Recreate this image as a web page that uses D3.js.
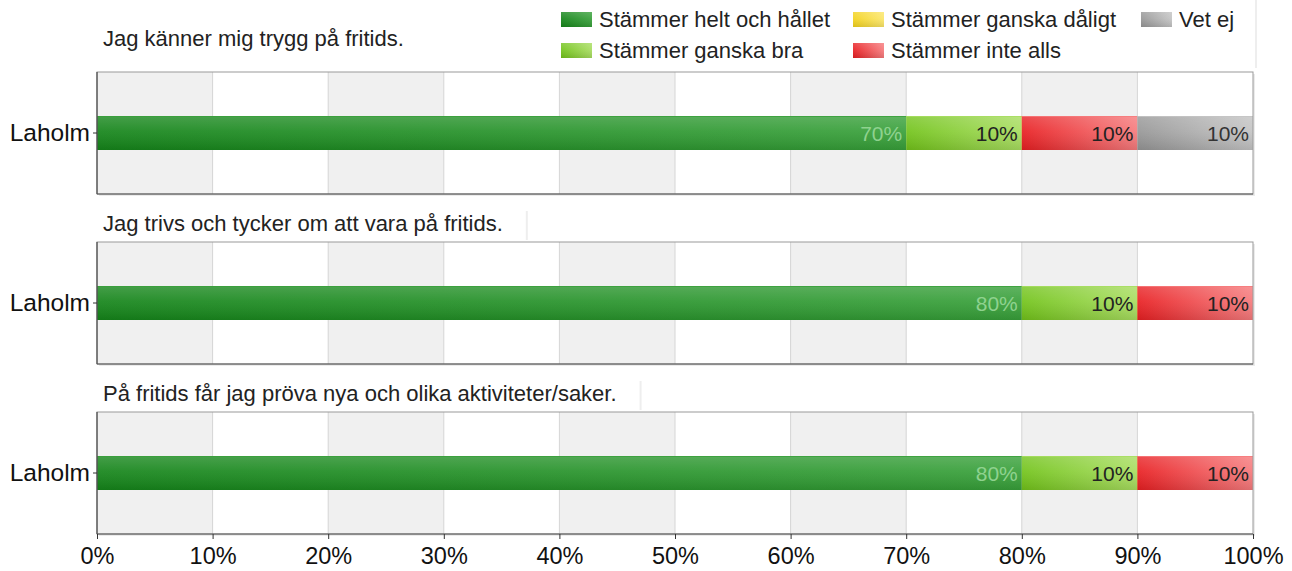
<!DOCTYPE html>
<html>
<head>
<meta charset="utf-8">
<script src="https://cdn.jsdelivr.net/npm/d3@7"></script>
<style>
  body { margin: 0; background: #fff; }
  text { font-family: "Liberation Sans", Arial, sans-serif; }
</style>
</head>
<body>
<div id="chart"></div>
<script>
// data
const questions = [
  'Jag känner mig trygg på fritids.',
  'Jag trivs och tycker om att vara på fritids.',
  'På fritids får jag pröva nya och olika aktiviteter/saker.',
];
const category = 'Laholm';
const answers = ['Stämmer helt och hållet', 'Stämmer ganska bra', 'Stämmer ganska dåligt', 'Stämmer inte alls', 'Vet ej'];
const helt = [70, 80, 80];
const bra = [10, 10, 10];
const daligt = [0, 0, 0];
const inteAlls = [10, 10, 10];
const vetEj = [10, 0, 0];
const ticks = [0, 10, 20, 30, 40, 50, 60, 70, 80, 90, 100];

const colors = ['#15851a', '#72c31a', '#f3d21c', '#e81f22', '#969696'];
const light = ['#38a03a', '#a8dd60', '#fbe66a', '#f67a7c', '#c4c4c4'];
const labelColors = ['#8fd28f', '#222', '#222', '#222', '#333'];

const W = 1292;
const H = 571;
const left = 97;
const right = 1253;
const panelH = 122;
const panelTop = [72, 242, 412];
const titleY = [46, 231, 401];
const barH = 34;

const svg = d3.select('#chart')
  .append('svg')
  .attr('width', W)
  .attr('height', H);

const defs = svg.append('defs');
colors.forEach((c, i) => {
  const g = defs.append('linearGradient').attr('id', `grad${i}`)
    .attr('x1', 0).attr('x2', 1).attr('y1', 0).attr('y2', 0);
  g.append('stop').attr('offset', '0%').attr('stop-color', c);
  g.append('stop').attr('offset', '100%').attr('stop-color', light[i]);
});
const gloss = defs.append('linearGradient').attr('id', 'gloss')
  .attr('x1', 0).attr('x2', 0).attr('y1', 0).attr('y2', 1);
gloss.append('stop').attr('offset', '0%').attr('stop-color', '#fff').attr('stop-opacity', 0.2);
gloss.append('stop').attr('offset', '45%').attr('stop-color', '#fff').attr('stop-opacity', 0.08);
gloss.append('stop').attr('offset', '100%').attr('stop-color', '#000').attr('stop-opacity', 0.1);

const x = d3.scaleLinear().domain([0, 100]).range([left, right]);

const rows = questions.map((q, i) => [helt[i], bra[i], daligt[i], inteAlls[i], vetEj[i]]);

rows.forEach((vals, qi) => {
  const top = panelTop[qi];
  const y = d3.scaleBand().domain([category]).range([top, top + panelH]).padding(0);
  const g = svg.append('g');

  // title with faint box edge
  const title = g.append('text')
    .attr('x', 103)
    .attr('y', titleY[qi])
    .attr('font-size', 22)
    .attr('fill', '#222')
    .text(questions[qi]);
  if (qi > 0) {
    const tw = title.node().getComputedTextLength();
    g.append('line')
      .attr('x1', 103 + tw + 24).attr('x2', 103 + tw + 24)
      .attr('y1', titleY[qi] - 20).attr('y2', top - 2)
      .attr('stroke', '#eeeeee').attr('stroke-width', 2);
  }

  // panel shadow
  g.append('rect')
    .attr('x', left + 2).attr('y', top + 2)
    .attr('width', right - left).attr('height', panelH)
    .attr('fill', '#ebebeb');

  // alternating bands
  g.selectAll('.band')
    .data(ticks.slice(0, -1))
    .enter()
    .append('rect')
    .attr('x', d => x(d))
    .attr('y', top)
    .attr('width', d => x(d + 10) - x(d))
    .attr('height', panelH)
    .attr('fill', (d, i) => (i % 2 === 0 ? '#f0f0f0' : '#fff'));

  // grid lines
  g.selectAll('.grid')
    .data(ticks.slice(1, -1))
    .enter()
    .append('line')
    .attr('x1', d => x(d)).attr('x2', d => x(d))
    .attr('y1', top).attr('y2', top + panelH)
    .attr('stroke', '#d6d6d6');

  // bars
  const stack = [];
  let acc = 0;
  vals.forEach((v, i) => { stack.push({ i, v, x0: acc, x1: acc + v }); acc += v; });

  const by = y(category) + y.bandwidth() / 2 - barH / 2;
  stack.forEach((s) => {
    const w = Math.max(x(s.x1) - x(s.x0), s.v === 0 && s.i === 2 ? 1.5 : 0);
    if (w <= 0) return;
    g.append('rect')
      .attr('x', x(s.x0)).attr('y', by)
      .attr('width', w).attr('height', barH)
      .attr('fill', `url(#grad${s.i})`);
    g.append('rect')
      .attr('x', x(s.x0)).attr('y', by)
      .attr('width', w).attr('height', barH)
      .attr('fill', 'url(#gloss)');
    g.append('line')
      .attr('x1', x(s.x0)).attr('x2', x(s.x0) + w)
      .attr('y1', by + 0.5).attr('y2', by + 0.5)
      .attr('stroke', light[s.i]).attr('stroke-opacity', 0.8);
    if (s.v > 0) {
      g.append('text')
        .attr('x', x(s.x1) - 4)
        .attr('y', by + barH / 2 + 8)
        .attr('text-anchor', 'end')
        .attr('font-size', 21)
        .attr('fill', labelColors[s.i])
        .text(`${s.v}%`);
    }
  });

  // frame
  g.append('rect')
    .attr('x', left).attr('y', top)
    .attr('width', right - left).attr('height', panelH)
    .attr('fill', 'none')
    .attr('stroke', '#9a9a9a');
  g.append('line')
    .attr('x1', left).attr('x2', left)
    .attr('y1', top).attr('y2', top + panelH)
    .attr('stroke', '#333');
  g.append('line')
    .attr('x1', left).attr('x2', right)
    .attr('y1', top + panelH).attr('y2', top + panelH)
    .attr('stroke', '#555');

  // category axis
  const ya = g.append('g')
    .attr('transform', `translate(${left},0)`)
    .call(d3.axisLeft(y).tickSize(4).tickPadding(3));
  ya.select('.domain').remove();
  ya.selectAll('text').attr('font-size', 24.5).attr('fill', '#111')
    .style('font-family', '"Liberation Sans", Arial, sans-serif');
  ya.selectAll('line').attr('stroke', '#333');
});

// bottom axis
const xa = svg.append('g')
  .attr('transform', `translate(0,${panelTop[2] + panelH})`)
  .call(d3.axisBottom(x).tickValues(ticks).tickFormat(d => `${d}%`).tickSize(5).tickPadding(8));
xa.select('.domain').remove();
xa.selectAll('line').attr('stroke', '#333');
xa.selectAll('text').attr('font-size', 23.5).attr('fill', '#111')
  .style('font-family', '"Liberation Sans", Arial, sans-serif');

// legend
const legendPos = [
  [561, 19], [561, 50], [853, 19], [853, 50], [1141, 19],
];
const legend = svg.append('g');
legend.append('line')
  .attr('x1', 1256).attr('x2', 1256)
  .attr('y1', 0).attr('y2', 68)
  .attr('stroke', '#eeeeee').attr('stroke-width', 2);
answers.forEach((a, i) => {
  const [lx, ly] = legendPos[i];
  legend.append('rect')
    .attr('x', lx).attr('y', ly - 7)
    .attr('width', 31).attr('height', 15)
    .attr('fill', `url(#grad${i})`);
  legend.append('rect')
    .attr('x', lx).attr('y', ly - 7)
    .attr('width', 31).attr('height', 15)
    .attr('fill', 'url(#gloss)');
  legend.append('text')
    .attr('x', lx + 38)
    .attr('y', ly + 8)
    .attr('font-size', 22)
    .attr('fill', '#222')
    .text(a);
});
</script>
</body>
</html>
